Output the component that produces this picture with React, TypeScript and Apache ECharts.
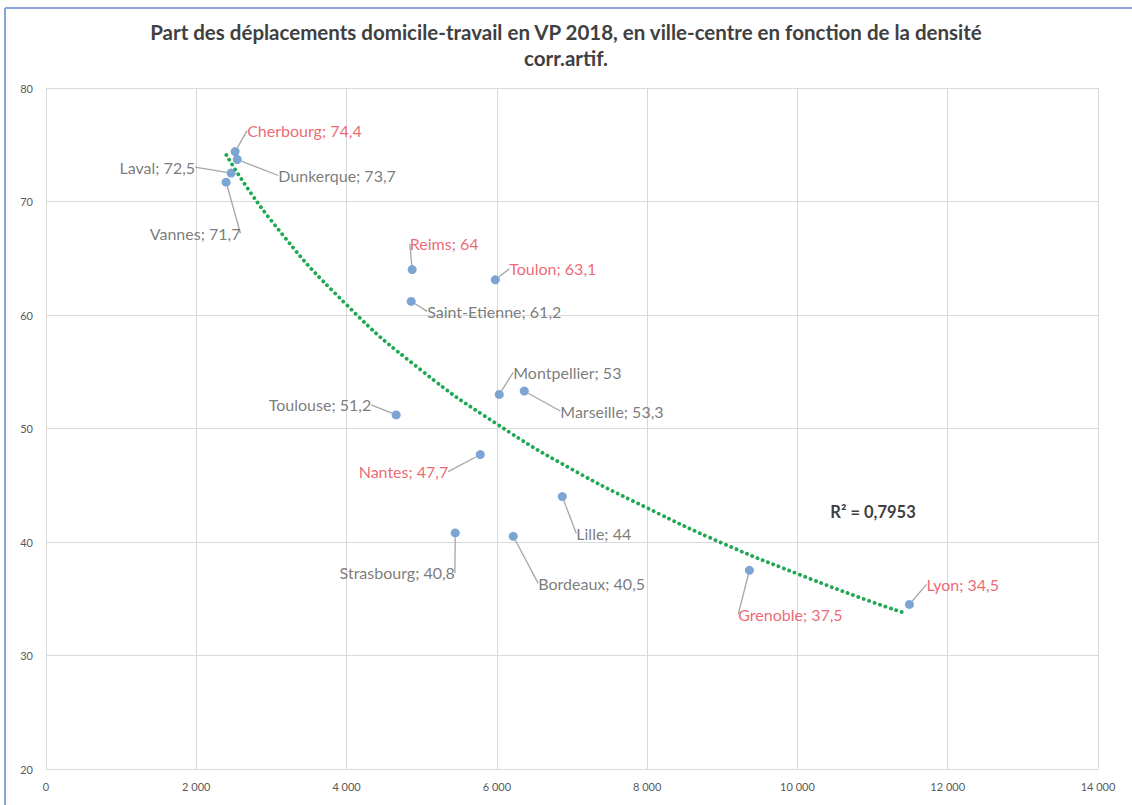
import React, { useEffect, useRef } from "react";
import * as echarts from "echarts";

const cities = [
  "Cherbourg", "Dunkerque", "Laval", "Vannes", "Reims", "Toulon", "Saint-Etienne", "Montpellier",
  "Marseille", "Toulouse", "Nantes", "Lille", "Strasbourg", "Bordeaux", "Grenoble", "Lyon",
];
const density = [2517, 2545, 2463, 2397, 4873, 5979, 4860, 6032, 6365, 4660, 5779, 6871, 5446, 6218, 9361, 11491];
const carShare = [74.4, 73.7, 72.5, 71.7, 64, 63.1, 61.2, 53, 53.3, 51.2, 47.7, 44, 40.8, 40.5, 37.5, 34.5];
const highlighted = ["Cherbourg", "Reims", "Toulon", "Nantes", "Grenoble", "Lyon"];

// trendline (logarithmic)
const trendX = [2400, 3000, 4000, 5000, 6000, 7000, 8000, 9000, 10000, 11000, 11450];
const trendY = [74.1, 68.3, 60.9, 55.1, 50.4, 46.4, 43.0, 39.9, 37.2, 34.7, 33.7];

const xTicks = [0, 2000, 4000, 6000, 8000, 10000, 12000, 14000];
const yTicks = [20, 30, 40, 50, 60, 70, 80];
const r2Text = "R² = 0,7953";
const titleText = "Part des déplacements domicile-travail en VP 2018, en ville-centre en fonction de la densité\ncorr.artif.";

// label offsets from the point centre (layout, not data)
const labelOffsets: [number, number, string][] = [
  [12, -21, "left"],
  [41, 16, "left"],
  [-36, -6, "right"],
  [-31, 51, "center"],
  [32, -26, "center"],
  [14, -11, "left"],
  [16, 10, "left"],
  [14, -22, "left"],
  [36, 20, "left"],
  [-25, -10, "right"],
  [-32, 17, "right"],
  [14, 37, "left"],
  [-58, 40, "center"],
  [25, 47, "left"],
  [41, 44, "center"],
  [17, -20, "left"],
];

const FONT = "Lato";
const GREY = "#595959";
const RED = "#E8414F";

export default function App() {
  const ref = useRef<HTMLDivElement>(null);
  useEffect(() => {
    const chart = echarts.init(ref.current!, null, { renderer: "svg" });
    const points = cities.map((c, i) => ({
      name: c,
      value: [density[i], carShare[i]],
      label: { color: highlighted.includes(c) ? RED : GREY },
    }));
    const trend = trendX.map((x, i) => [x, trendY[i]]);
    chart.setOption({
      animation: false,
      backgroundColor: "#ffffff",
      title: {
        text: titleText,
        left: "center",
        top: 14,
        textStyle: {
          fontFamily: FONT,
          fontSize: 20.5,
          fontWeight: "bold",
          color: "#404040",
          lineHeight: 26,
        },
      },
      grid: { left: 46, right: 34, top: 88, bottom: 36, containLabel: false },
      xAxis: {
        type: "value",
        min: xTicks[0],
        max: xTicks[xTicks.length - 1],
        interval: 2000,
        axisLine: { show: true, lineStyle: { color: "#D9D9D9" } },
        axisTick: { show: false },
        splitLine: { show: true, lineStyle: { color: "#D9D9D9", width: 1 } },
        axisLabel: {
          color: GREY,
          fontFamily: FONT,
          fontSize: 11,
          margin: 12,
          formatter: (v: number) => String(v).replace(/\B(?=(\d{3})+(?!\d))/g, " "),
        },
      },
      yAxis: {
        type: "value",
        min: yTicks[0],
        max: yTicks[yTicks.length - 1],
        interval: 10,
        axisLine: { show: true, lineStyle: { color: "#D9D9D9" } },
        axisTick: { show: false },
        splitLine: { show: true, lineStyle: { color: "#D9D9D9", width: 1 } },
        axisLabel: { color: GREY, fontFamily: FONT, fontSize: 11, margin: 13 },
      },
      graphic: [
        { type: "line", shape: { x1: 5, y1: 8, x2: 5, y2: 805 }, style: { stroke: "#8AA4D6", lineWidth: 2 } },
        { type: "line", shape: { x1: 5, y1: 8, x2: 1132, y2: 8 }, style: { stroke: "#8AA4D6", lineWidth: 2 } },
        {
          type: "text",
          x: 873,
          y: 512,
          style: {
            text: r2Text,
            fill: "#404040",
            font: `bold 16.5px ${FONT}`,
            textAlign: "center",
            textVerticalAlign: "middle",
          },
        },
      ],
      series: [
        {
          type: "line",
          data: trend,
          smooth: true,
          symbol: "none",
          z: 2,
          lineStyle: { color: "#1DA851", width: 3.8, type: [0.1, 5.6], cap: "round" },
        },
        {
          type: "scatter",
          data: points,
          symbolSize: 9,
          z: 3,
          itemStyle: { color: "#5B8FC9" },
          label: {
            show: true,
            fontFamily: FONT,
            fontSize: 16,
            formatter: (p: any) => `${p.name}; ${String(p.value[1]).replace(".", ",")}`,
          },
          labelLine: { show: true, lineStyle: { color: "#A6A6A6", width: 1.3 } },
          labelLayout: (p: any) => {
            const o = labelOffsets[p.dataIndex];
            const cx = p.rect.x + p.rect.width / 2;
            const cy = p.rect.y + p.rect.height / 2;
            return { x: cx + o[0], y: cy + o[1], align: o[2], verticalAlign: "middle" };
          },
        },
      ],
    });
    return () => chart.dispose();
  }, []);
  return <div ref={ref} style={{ position: "fixed", left: 0, top: 0, width: 1132, height: 805 }} />;
}
